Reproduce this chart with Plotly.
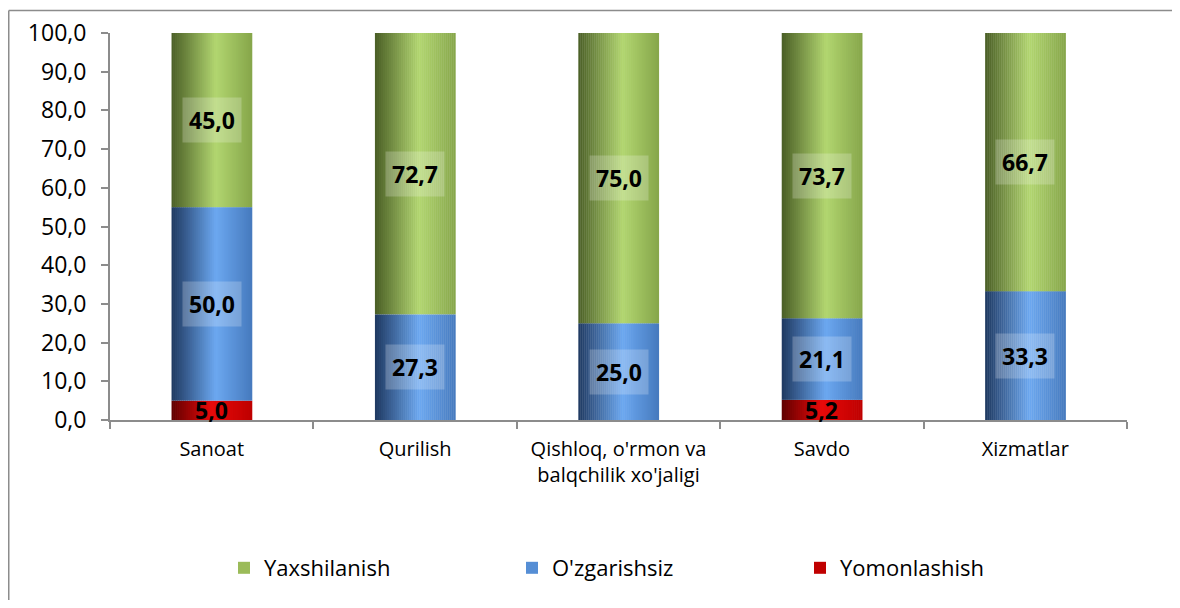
import plotly.graph_objects as go

categories = ["Sanoat", "Qurilish", "Qishloq, o'rmon va<br>balqchilik xo'jaligi", "Savdo", "Xizmatlar"]
yomon = [5.0, 0.0, 0.0, 5.2, 0.0]
ozgar = [50.0, 27.3, 25.0, 21.1, 33.3]
yaxshi = [45.0, 72.7, 75.0, 73.7, 66.7]
series_names = ["Yomonlashish", "O'zgarishsiz", "Yaxshilanish"]
y_ticks = [0, 10, 20, 30, 40, 50, 60, 70, 80, 90, 100]

series = [yomon, ozgar, yaxshi]
stops = {
    "Yomonlashish": [(0.0, (96, 0, 0)), (0.5, (232, 10, 10)), (1.0, (190, 0, 0))],
    "O'zgarishsiz": [(0.0, (30, 56, 96)), (0.55, (108, 168, 240)), (1.0, (70, 122, 190))],
    "Yaxshilanish": [(0.0, (74, 94, 38)), (0.55, (178, 214, 112)), (1.0, (134, 166, 74))],
}
legend_colors = {"Yomonlashish": "#C00000", "O'zgarishsiz": "#558ED5", "Yaxshilanish": "#9BBB59"}


def shade(name, t):
    s = stops[name]
    for (t0, c0), (t1, c1) in zip(s[:-1], s[1:]):
        if t0 <= t <= t1:
            f = (t - t0) / (t1 - t0)
            return "rgb(%d,%d,%d)" % tuple(round(a + (b - a) * f) for a, b in zip(c0, c1))
    return "rgb(%d,%d,%d)" % s[-1][1]


fig = go.Figure()
N = 40
W = 0.395
bases = []
cum = [0.0] * len(categories)
for vals in series:
    bases.append(list(cum))
    cum = [c + v for c, v in zip(cum, vals)]

for name, vals, base in zip(series_names, series, bases):
    for i in range(N):
        t = (i + 0.5) / N
        fig.add_trace(go.Bar(
            x=categories, y=vals, base=base,
            width=W / N + 0.002, offset=-W / 2 + i * W / N,
            marker=dict(color=shade(name, t), line=dict(width=0)),
            showlegend=False, hoverinfo="skip",
        ))

for name in ["Yaxshilanish", "O'zgarishsiz", "Yomonlashish"]:
    fig.add_trace(go.Bar(x=[categories[0]], y=[0], base=[0], width=0.001,
                         marker=dict(color=legend_colors[name], line=dict(width=0)),
                         name=name, showlegend=True, hoverinfo="skip"))

for name, vals, base in zip(series_names, series, bases):
    for c, v, b in zip(categories, vals, base):
        if v <= 0:
            continue
        red = name == "Yomonlashish"
        fig.add_annotation(
            x=c, y=b + v / 2, xref="x", yref="y",
            text="<b>%s</b>" % ("%.1f" % v).replace(".", ","),
            showarrow=False,
            font=dict(family="Open Sans", size=23, color="black"),
            bgcolor=None if red else "rgba(255,255,255,0.22)",
            borderpad=0 if red else 6,
        )

W_FIG, H_FIG = 1164, 592
L, T, R, B = 102, 25, 45, 180
PW, PH = W_FIG - L - R, H_FIG - T - B

fig.update_layout(
    barmode="overlay",
    width=W_FIG, height=H_FIG,
    margin=dict(l=L, r=R, t=T, b=B, autoexpand=False),
    paper_bgcolor="white", plot_bgcolor="white",
    font=dict(family="Open Sans", color="black"),
    showlegend=True,
    legend=dict(orientation="h", x=(224 - 8 - L) / PW, xanchor="left",
                y=-(560 - T - PH) / PH, yanchor="middle",
                font=dict(size=22, family="Open Sans"), entrywidth=243, traceorder="normal",
                itemclick=False),
    xaxis=dict(showline=True, linecolor="#8c8c8c", linewidth=2, ticks="outside",
               tickson="boundaries", ticklen=7, tickcolor="#8c8c8c", tickwidth=2,
               tickfont=dict(size=20), ticklabelstandoff=10, showgrid=False, fixedrange=True),
    yaxis=dict(range=[0, 100], tickvals=y_ticks,
               ticktext=[("%.1f" % v).replace(".", ",") for v in y_ticks],
               showline=True, linecolor="#8c8c8c", linewidth=2, ticks="outside",
               ticklen=7, tickcolor="#8c8c8c", tickwidth=2, showgrid=False,
               tickfont=dict(size=23), ticklabelstandoff=10, zeroline=False, fixedrange=True),
)
# chart-area border (top and left edges visible in the reference)
fig.add_shape(type="line", xref="paper", yref="paper",
              x0=(0.75 - L) / PW, x1=(W_FIG - L) / PW,
              y0=1 + (T - 2.5) / PH, y1=1 + (T - 2.5) / PH,
              line=dict(color="#8c8c8c", width=1.5), layer="below")
fig.add_shape(type="line", xref="paper", yref="paper",
              x0=(0.75 - L) / PW, x1=(0.75 - L) / PW,
              y0=-(H_FIG - T - PH) / PH, y1=1 + (T - 2.5) / PH,
              line=dict(color="#8c8c8c", width=1.5), layer="below")

fig.write_html("out.html")
